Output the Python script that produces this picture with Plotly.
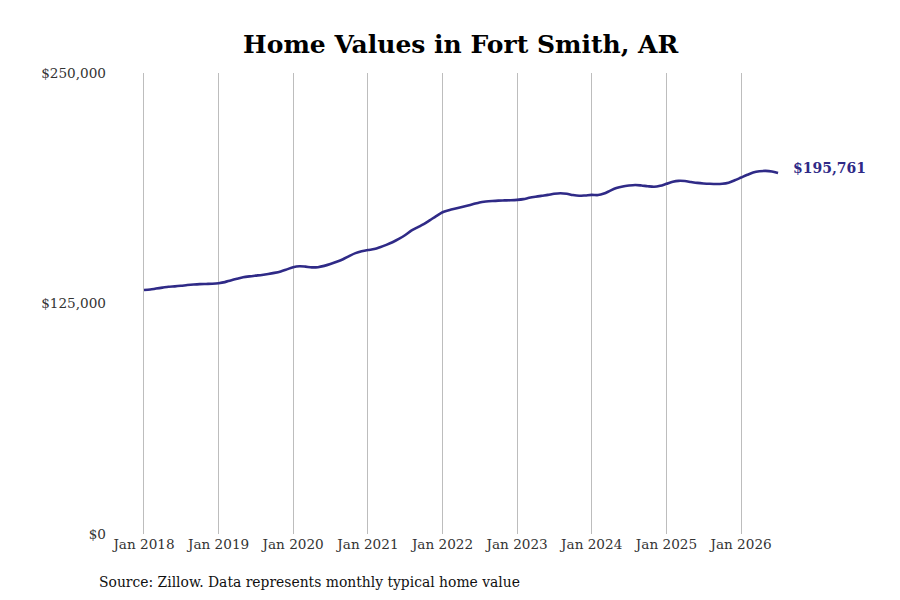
import pandas as pd
import plotly.graph_objects as go

# monthly typical home value, Jan 2018 - Jul 2026 (thousands of $)
values_2018 = [132.3, 132.6, 133.1, 133.6, 134.1, 134.3, 134.6, 135.0, 135.3, 135.5, 135.6, 135.7]
values_2019 = [136.0, 136.6, 137.5, 138.4, 139.2, 139.7, 140.1, 140.5, 141.0, 141.6, 142.4, 143.5]
values_2020 = [144.7, 145.2, 145.0, 144.6, 144.7, 145.4, 146.4, 147.6, 149.0, 150.7, 152.3, 153.3]
values_2021 = [154.0, 154.5, 155.5, 156.8, 158.2, 160.0, 162.0, 164.5, 166.3, 168.0, 170.2, 172.4]
values_2022 = [174.5, 175.6, 176.4, 177.2, 178.0, 178.9, 179.8, 180.3, 180.6, 180.8, 180.9, 181.0]
values_2023 = [181.2, 181.6, 182.3, 182.9, 183.4, 183.9, 184.5, 184.8, 184.5, 183.8, 183.4, 183.6]
values_2024 = [183.9, 183.8, 184.6, 186.2, 187.6, 188.5, 189.0, 189.3, 189.0, 188.6, 188.3, 188.8]
values_2025 = [189.9, 191.0, 191.5, 191.4, 190.9, 190.4, 190.1, 189.9, 189.8, 189.9, 190.5, 191.8]
values_2026 = [193.3, 194.8, 196.0, 196.7, 196.9, 196.6, 195.761]

values = (values_2018 + values_2019 + values_2020 + values_2021 + values_2022
          + values_2023 + values_2024 + values_2025 + values_2026)
values = [v * 1000 for v in values]
dates = pd.date_range("2018-01-01", periods=len(values), freq="MS")

tick_dates = pd.date_range("2018-01-01", "2026-01-01", freq="YS")
tick_labels = [d.strftime("Jan %Y") for d in tick_dates]
y_ticks = [0, 125000, 250000]
y_labels = ["$0", "$125,000", "$250,000"]

line_color = "#2f2a87"
font = "DejaVu Serif"

fig = go.Figure()
fig.add_trace(go.Scatter(
    x=dates, y=values, mode="lines",
    line=dict(color=line_color, width=2.6, shape="spline", smoothing=0.8),
    hoverinfo="x+y",
))

fig.add_annotation(
    x=dates[-1], y=values[-1], text="<b>$%s</b>" % format(round(values[-1]), ","),
    showarrow=False, xanchor="left", xshift=13, yshift=5,
    font=dict(family=font, size=14, color=line_color),
)
fig.add_annotation(
    xref="paper", yref="paper", x=-0.0125, y=-0.104,
    text="Source: Zillow. Data represents monthly typical home value",
    showarrow=False, xanchor="left", yanchor="middle",
    font=dict(family=font, size=13.9, color="#111111"),
)

fig.update_layout(
    width=900, height=600,
    margin=dict(l=99, r=38, t=65, b=74),
    plot_bgcolor="white", paper_bgcolor="white",
    title=dict(text="<b>Home Values in Fort Smith, AR</b>", x=0.503, xanchor="center",
               y=1 - 36 / 600, yanchor="middle",
               font=dict(family=font, size=25, color="black")),
    showlegend=False,
    xaxis=dict(
        range=["2017-07-04", "2027-09-24"],
        tickvals=tick_dates, ticktext=tick_labels,
        showgrid=True, gridcolor="#bdbdbd", gridwidth=1,
        showline=False, zeroline=False,
        tickfont=dict(family=font, size=13.6, color="#333333"),
    ),
    yaxis=dict(
        range=[0, 250000],
        tickvals=y_ticks, ticktext=y_labels,
        showgrid=False, showline=False, zeroline=False,
        tickfont=dict(family=font, size=13.6, color="#333333"),
    ),
)

fig.write_html("out.html")
